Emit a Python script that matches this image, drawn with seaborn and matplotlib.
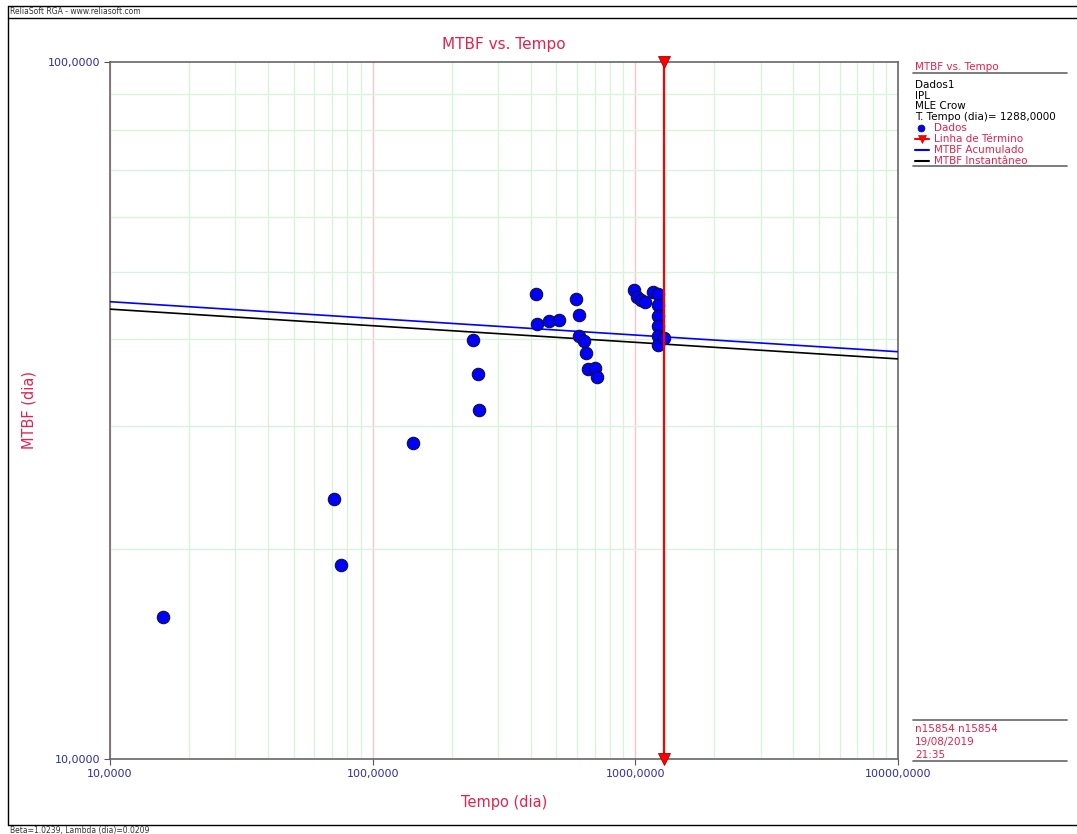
import numpy as np
import pandas as pd
import seaborn as sns
import matplotlib.pyplot as plt
from matplotlib.lines import Line2D
from matplotlib.ticker import LogLocator, NullFormatter, FixedLocator, FuncFormatter

# data
tempo = [15.9, 71.3, 75.8, 142, 241, 252, 254, 419, 422, 469, 512, 594, 610, 610,
         638, 649, 660, 702, 714, 989, 1016, 1051, 1090, 1168, 1220, 1220, 1220,
         1220, 1220, 1220, 1288]
mtbf = [16.0, 23.6, 19.0, 28.4, 39.9, 35.7, 31.7, 46.5, 42.1, 42.5, 42.6, 45.7, 43.4,
        40.4, 39.8, 38.2, 36.3, 36.4, 35.3, 47.1, 46.0, 45.6, 45.3, 46.8, 46.5, 44.8,
        43.2, 41.8, 40.4, 39.3, 40.2]
linha_t = [10, 10000]
mtbf_acum = [45.3, 38.4]
mtbf_inst = [44.2, 37.5]
t_termino = 1288
x_ticks = [10, 100, 1000, 10000]
y_ticks = [10, 100]

RED = "#e3224c"
TICK = "#2e2e9e"

sns.set_theme(style="white")
plt.rcParams["font.family"] = ["DejaVu Sans"]

W, H = 1077, 834
fig = plt.figure(figsize=(W / 100, H / 100), dpi=100)
ax = fig.add_axes([110 / W, 1 - 759 / H, (898 - 110) / W, (759 - 62) / H])

def fx(px):
    return px / W

def fy(py):
    return 1 - py / H

pts = pd.DataFrame({"tempo": tempo, "mtbf": mtbf})
lin = pd.DataFrame({"t": linha_t, "acum": mtbf_acum, "inst": mtbf_inst})

ax.set_xscale("log")
ax.set_yscale("log")
ax.set_xlim(10, 10000)
ax.set_ylim(10, 100)

sns.lineplot(data=lin, x="t", y="acum", color="#0000ff", lw=1.2, ax=ax, zorder=3)
sns.lineplot(data=lin, x="t", y="inst", color="black", lw=1.2, ax=ax, zorder=3)
sns.scatterplot(data=pts, x="tempo", y="mtbf", color="#0000ff", s=80,
                edgecolor="#111133", linewidth=0.8, ax=ax, zorder=4)
ax.axvline(t_termino, color="#ff0000", lw=1.6, zorder=5)
ax.plot([t_termino, t_termino], [100, 10], ls="none", marker="v", ms=9,
        color="#ff0000", mec="#aa0000", mew=0.6, clip_on=False, zorder=6)

# grid
ax.xaxis.set_major_locator(FixedLocator(x_ticks))
ax.yaxis.set_major_locator(FixedLocator(y_ticks))
ax.xaxis.set_minor_locator(LogLocator(base=10, subs=range(2, 10)))
ax.yaxis.set_minor_locator(LogLocator(base=10, subs=range(2, 10)))
ax.xaxis.set_minor_formatter(NullFormatter())
ax.yaxis.set_minor_formatter(NullFormatter())
fmt = FuncFormatter(lambda v, p: f"{v:.4f}".replace(".", ","))
ax.xaxis.set_major_formatter(fmt)
ax.yaxis.set_major_formatter(fmt)
ax.grid(which="minor", color="#d6f5d6", lw=0.9)
ax.grid(which="major", axis="x", color="#f8c6c6", lw=1.0)
ax.set_axisbelow(True)

ax.tick_params(which="major", direction="out", length=4, width=0.8, pad=3,
               colors="#555555", labelcolor=TICK, labelsize=8, left=True, bottom=True)
ax.tick_params(which="minor", length=0)
for s in ax.spines.values():
    s.set_color("#666666")
    s.set_linewidth(1.2)

ax.set_xlabel("")
ax.set_ylabel("")
ax.set_title("MTBF vs. Tempo", color=RED, fontsize=11, pad=9)
fig.text(fx(504), fy(802), "Tempo (dia)", color=RED, fontsize=10.5,
         ha="center", va="center")
fig.text(fx(29), fy(410), "MTBF (dia)", color=RED, fontsize=10.5,
         ha="center", va="center", rotation=90)

# frame and header/footer
for (x0, y0, x1, y1) in [(8, 6, W, 6), (8, 18, W, 18), (8, 6, 8, 825), (8, 825, W, 825)]:
    fig.add_artist(Line2D([fx(x0), fx(x1)], [fy(y0), fy(y1)], color="black", lw=1.0))
fig.text(fx(10), fy(12), "ReliaSoft RGA - www.reliasoft.com", fontsize=5.5,
         color="#333333", va="center")
fig.text(fx(10), fy(830), "Beta=1.0239, Lambda (dia)=0.0209", fontsize=5.5,
         color="#333333", va="center")

# right legend panel
fig.text(fx(915), fy(67), "MTBF vs. Tempo", fontsize=7.5, color=RED, va="center")
for py in [73, 166, 720, 761]:
    fig.add_artist(Line2D([fx(913), fx(1067)], [fy(py), fy(py)], color="#666666", lw=1.2))
for i, t in enumerate(["Dados1", "IPL", "MLE Crow", "T. Tempo (dia)= 1288,0000"]):
    fig.text(fx(915), fy(85 + 10.7 * i), t, fontsize=7.5, color="black", va="center")
leg = [("Dados", 128), ("Linha de Término", 139), ("MTBF Acumulado", 150),
       ("MTBF Instantâneo", 161)]
for name, py in leg:
    fig.text(fx(934), fy(py), name, fontsize=7.5, color=RED, va="center")
fig.add_artist(Line2D([fx(921)], [fy(128)], marker="o", ms=5, color="#0000ff",
                      mec="#111133", mew=0.5, ls="none"))
fig.add_artist(Line2D([fx(915), fx(929)], [fy(139), fy(139)], color="#ff0000", lw=1.5))
fig.add_artist(Line2D([fx(922)], [fy(139)], marker="v", ms=6, color="#ff0000",
                      mec="#aa0000", mew=0.4, ls="none"))
fig.add_artist(Line2D([fx(915), fx(929)], [fy(150), fy(150)], color="#0000ff", lw=1.5))
fig.add_artist(Line2D([fx(915), fx(929)], [fy(161), fy(161)], color="black", lw=1.5))
for i, t in enumerate(["n15854 n15854", "19/08/2019", "21:35"]):
    fig.text(fx(915), fy(729 + 13 * i), t, fontsize=7.5, color=RED, va="center")

fig.savefig("out.png", dpi=100)
